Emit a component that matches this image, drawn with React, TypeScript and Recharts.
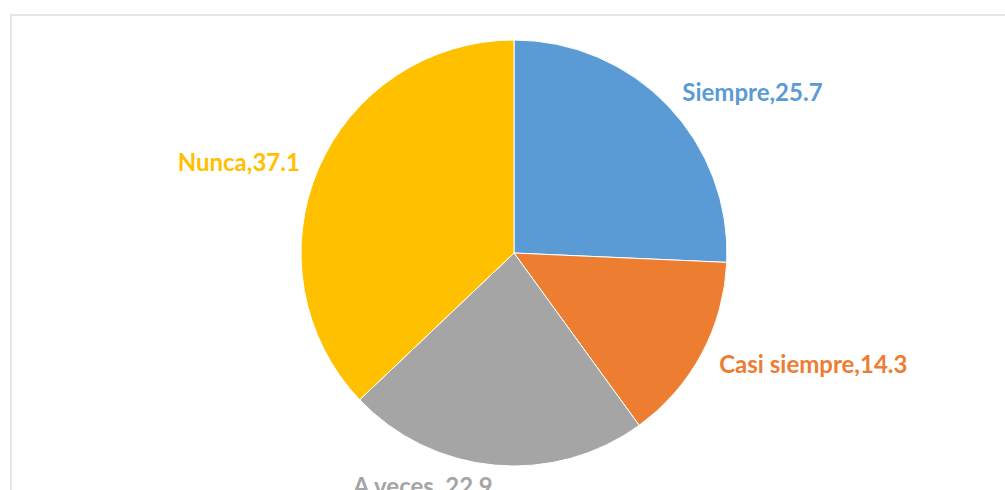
import { Cell, Pie, PieChart } from "recharts";

const categories = ["Siempre", "Casi siempre", "A veces ", "Nunca"];
const values = [25.7, 14.3, 22.9, 37.1];
const colors = ["#5B9BD5", "#ED7D31", "#A5A5A5", "#FFC000"];

const data = categories.map((name, i) => ({ name, value: values[i] }));

const RADIAN = Math.PI / 180;

const renderLabel = (props: any) => {
    const { cx, cy, midAngle, outerRadius, index } = props;
    const r = outerRadius + 20;
    const cos = Math.cos(-midAngle * RADIAN);
    const sin = Math.sin(-midAngle * RADIAN);
    const x = cx + r * cos;
    const y = cy + r * sin;
    return (
        <text
            x={x}
            y={y}
            fill={colors[index]}
            textAnchor={cos >= 0 ? "start" : "end"}
            dominantBaseline="central"
            fontFamily="Lato, 'Open Sans', sans-serif"
            fontWeight="bold"
            fontSize={24}
        >
            {`${categories[index]},${values[index]}`}
        </text>
    );
};

export default function App() {
    return (
        <div
            style={{
                position: "fixed",
                left: 0,
                top: 0,
                width: 1005,
                height: 490,
                overflow: "hidden",
                background: "#fff",
            }}
        >
            <div
                style={{
                    position: "absolute",
                    left: 10,
                    top: 14,
                    width: 1100,
                    height: 600,
                    borderTop: "2px solid #e6e6e6",
                    borderLeft: "2px solid #e6e6e6",
                }}
            />
            <div style={{ position: "absolute", left: 0, top: 0 }}>
                <PieChart
                    width={1005}
                    height={490}
                    margin={{ top: 0, right: 0, bottom: 0, left: 0 }}
                >
                    <Pie
                        data={data}
                        dataKey="value"
                        nameKey="name"
                        cx={514}
                        cy={253}
                        outerRadius={213}
                        startAngle={90}
                        endAngle={-270}
                        stroke="#ffffff"
                        strokeWidth={1}
                        labelLine={false}
                        label={renderLabel}
                        isAnimationActive={false}
                    >
                        {data.map((entry, i) => (
                            <Cell key={entry.name} fill={colors[i]} />
                        ))}
                    </Pie>
                </PieChart>
            </div>
        </div>
    );
}
